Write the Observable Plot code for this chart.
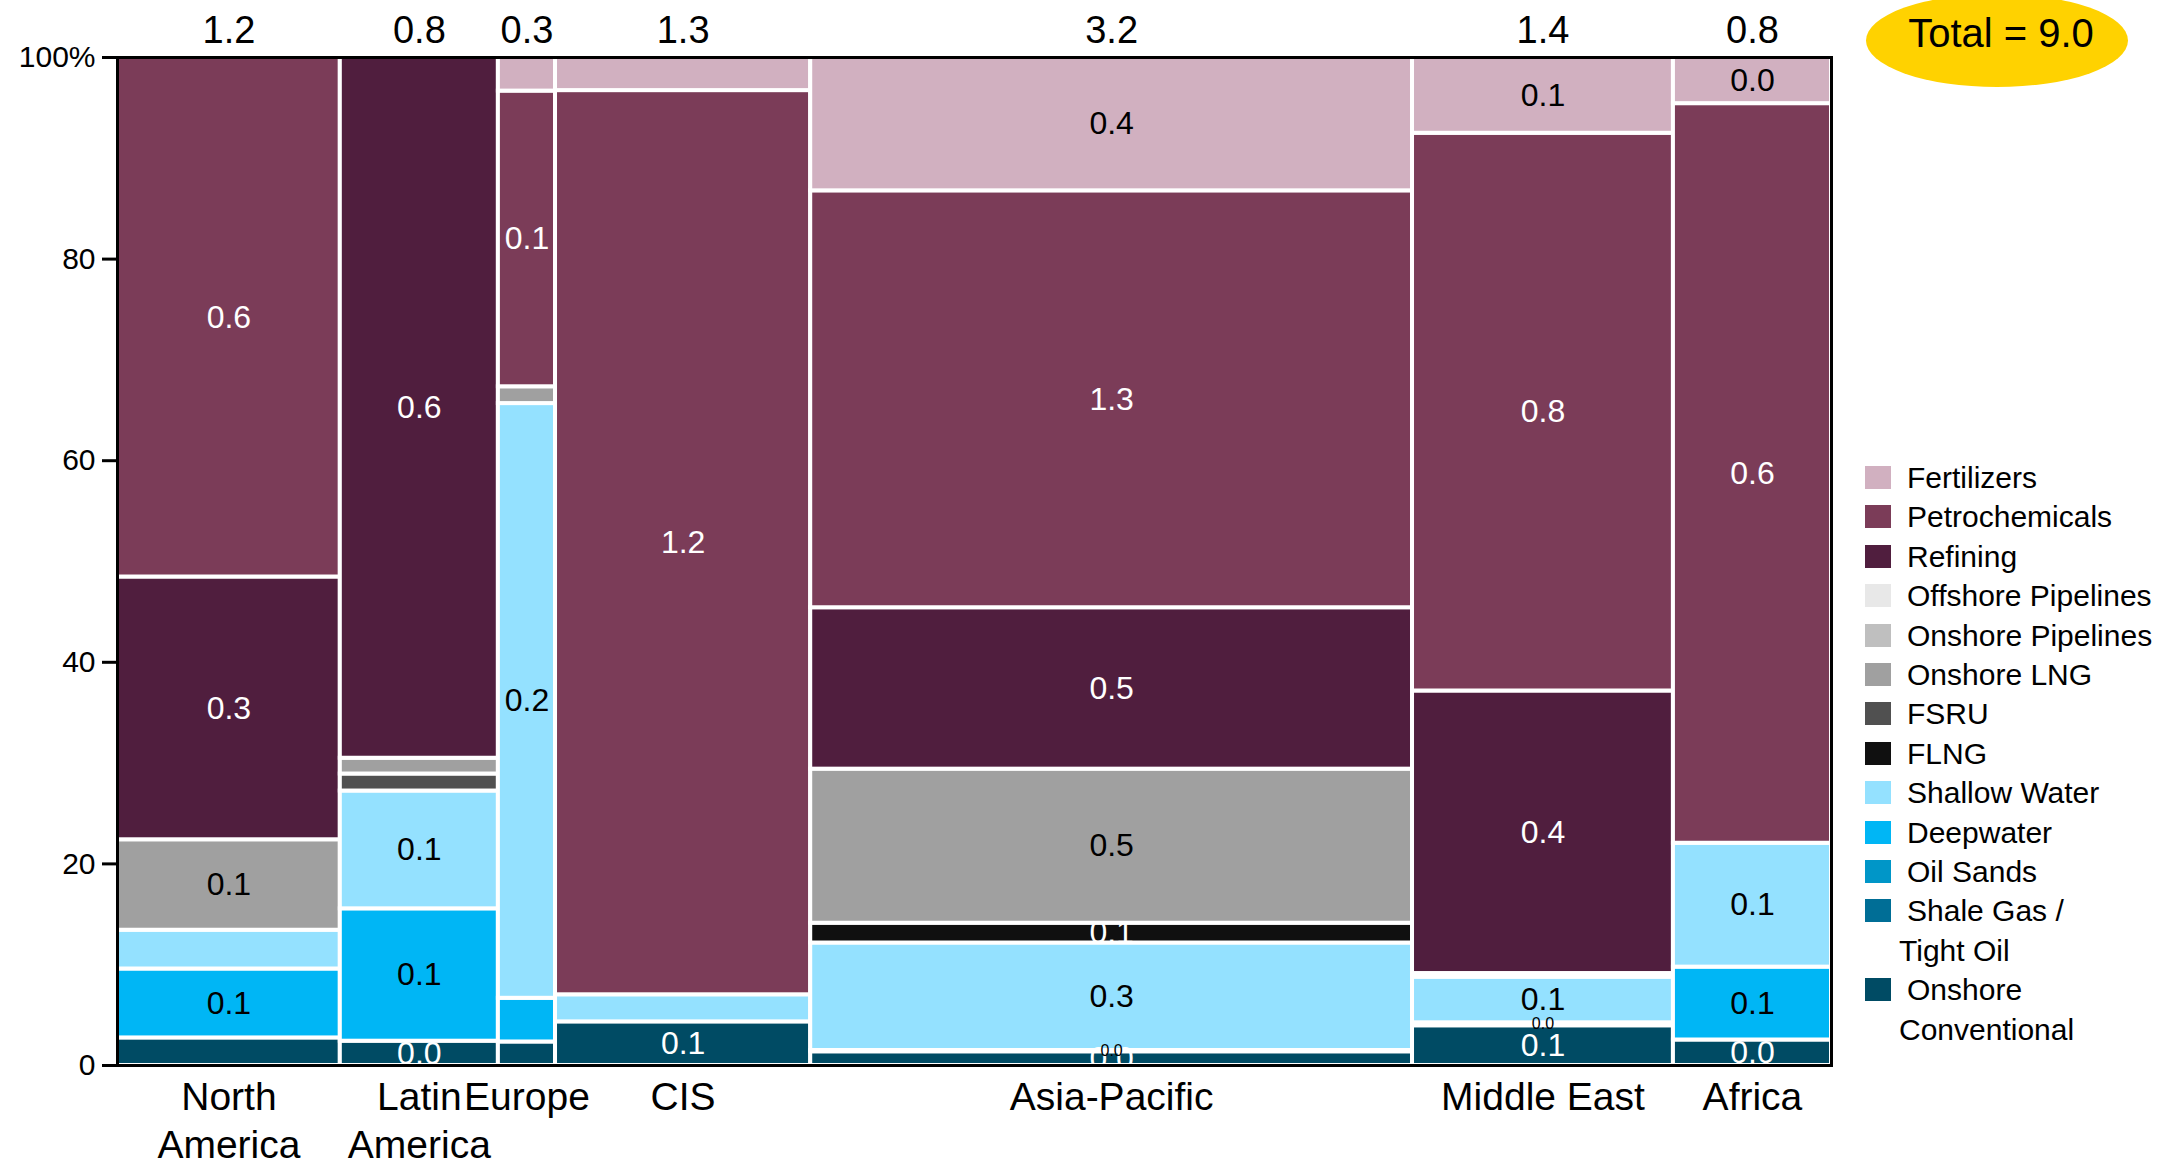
<!DOCTYPE html>
<html>
<head>
<meta charset="utf-8">
<script src="https://cdn.jsdelivr.net/npm/d3@7"></script>
<script src="https://cdn.jsdelivr.net/npm/@observablehq/plot@0.6"></script>
<style>
  html, body { margin: 0; padding: 0; background: #fff; }
  body { width: 2160px; height: 1165px; overflow: hidden; position: relative;
         font-family: "Liberation Sans", Arial, sans-serif; color: #000; }
  #chart { position: absolute; left: 0; top: 0; }
  #legend { position: absolute; left: 1865px; top: 458px; font-size: 30px; line-height: 39.4px; }
  .item { display: flex; align-items: flex-start; }
  .sw { width: 26px; height: 23px; margin-top: 8px; margin-right: 16px; flex: none; }
  .lbl { white-space: nowrap; }
  .lbl .l2 { display: block; margin-left: -8px; }
  #totalBubble { position: absolute; left: 1866px; top: -6px; width: 262px; height: 93px;
                 border-radius: 50%; background: #FFD200; }
  #totalText { position: absolute; left: 1870px; width: 262px; top: 11px; text-align: center;
               font-size: 40px; line-height: 44px; }
</style>
</head>
<body>
<div id="chart"></div>
<div id="totalBubble"></div>
<div id="totalText"></div>
<div id="legend"></div>
<script>
// ---- Data ----
const regions = ["North America", "Latin America", "Europe", "CIS", "Asia-Pacific", "Middle East", "Africa"];
const regionLabels = ["North\nAmerica", "Latin\nAmerica", "Europe", "CIS", "Asia-Pacific", "Middle East", "Africa"];

// legend order (top to bottom); stacks are drawn in the reverse order from the bottom
const categories = ["Fertilizers", "Petrochemicals", "Refining", "Offshore Pipelines", "Onshore Pipelines",
  "Onshore LNG", "FSRU", "FLNG", "Shallow Water", "Deepwater", "Oil Sands", "Shale Gas / Tight Oil",
  "Onshore Conventional"];
const colors = ["#D1B0C0", "#7B3C58", "#501E3E", "#E8E8E8", "#BFBFBF", "#A0A0A0", "#505050", "#101010",
  "#94E1FF", "#00B6F5", "#0096C8", "#006E96", "#004B64"];

// values per region, in the categories order above
const northAmerica = [0,     0.603, 0.305, 0, 0, 0.105, 0,     0,     0.045, 0.080, 0, 0, 0.032];
const latinAmerica = [0,     0,     0.577, 0, 0, 0.013, 0.014, 0,     0.097, 0.109, 0, 0, 0.020];
const europe       = [0.010, 0.088, 0,     0, 0, 0.005, 0,     0,     0.177, 0.013, 0, 0, 0.007];
const cis          = [0.044, 1.202, 0,     0, 0, 0,     0,     0,     0.036, 0,     0, 0, 0.058];
const asiaPacific  = [0.418, 1.307, 0.506, 0, 0, 0.483, 0,     0.062, 0.337, 0.004, 0, 0, 0.043];
const middleEast   = [0.103, 0.758, 0.384, 0, 0, 0.005, 0,     0,     0.062, 0.004, 0, 0, 0.054];
const africa       = [0.038, 0.609, 0,     0, 0, 0,     0,     0,     0.102, 0.060, 0, 0, 0.021];
const regionValues = [northAmerica, latinAmerica, europe, cis, asiaPacific, middleEast, africa];

const unlabeled = ["North America|Shallow Water", "North America|Onshore Conventional",
  "Latin America|FSRU", "Latin America|Onshore LNG",
  "Europe|Fertilizers", "Europe|Onshore LNG", "Europe|Deepwater", "Europe|Onshore Conventional",
  "CIS|Fertilizers", "CIS|Shallow Water", "Middle East|Onshore LNG"];
const smallLabels = ["Asia-Pacific|Deepwater", "Middle East|Deepwater"];
const whiteText = ["Petrochemicals", "Refining", "FSRU", "FLNG", "Shale Gas / Tight Oil", "Onshore Conventional"];
const yTicks = [0, 20, 40, 60, 80, 100];

// ---- Build table ----
const fmt = d3.format(".1f");
const totals = regionValues.map(v => d3.sum(v));
const grandTotal = d3.sum(totals);
const regionRows = [];
const segments = [];
let xCursor = 0;
regions.forEach((r, i) => {
  const total = totals[i];
  const x1 = xCursor, x2 = xCursor + total;
  xCursor = x2;
  regionRows.push({region: r, label: regionLabels[i], total, mid: (x1 + x2) / 2});
  let yCursor = 0;
  for (let c = categories.length - 1; c >= 0; c--) {
    const v = regionValues[i][c];
    if (!v) continue;
    const h = v / total * 100;
    const key = r + "|" + categories[c];
    segments.push({region: r, category: categories[c], value: v, x1, x2, y1: yCursor, y2: yCursor + h,
      xm: (x1 + x2) / 2, ym: yCursor + h / 2, key});
    yCursor += h;
  }
});
const bigLabels = segments.filter(d => !unlabeled.includes(d.key) && !smallLabels.includes(d.key));
const tinyLabels = segments.filter(d => smallLabels.includes(d.key));

const plot = Plot.plot({
  width: 2160,
  height: 1165,
  marginLeft: 117,
  marginRight: 329,
  marginTop: 57,
  marginBottom: 100,
  x: {domain: [0, grandTotal], axis: null},
  y: {domain: [0, 100], axis: null},
  color: {domain: categories, range: colors},
  style: {fontFamily: "Liberation Sans, Arial, sans-serif", color: "black", background: "white", overflow: "visible"},
  marks: [
    Plot.rect(segments, {x1: "x1", x2: "x2", y1: "y1", y2: "y2", fill: "category", stroke: "white", strokeWidth: 4}),
    Plot.text(bigLabels.filter(d => whiteText.includes(d.category)),
      {x: "xm", y: "ym", text: d => fmt(d.value), fill: "white", fontSize: 32}),
    Plot.text(bigLabels.filter(d => !whiteText.includes(d.category)),
      {x: "xm", y: "ym", text: d => fmt(d.value), fill: "black", fontSize: 32}),
    Plot.text(tinyLabels, {x: "xm", y: "ym", text: d => fmt(d.value), fill: "black", fontSize: 16}),
    Plot.frame({stroke: "black", strokeWidth: 3}),
    Plot.axisY({ticks: yTicks, tickFormat: d => d === 100 ? "100%" : String(d), tickSize: 15,
      tickPadding: 7, strokeWidth: 3, fontSize: 30, label: null, stroke: "black", fill: "black"}),
    Plot.text(regionRows, {x: "mid", y: 0, text: "label", lineAnchor: "top", dy: 11, fontSize: 39,
      lineHeight: 1.22, fill: "black"}),
    Plot.text(regionRows, {x: "mid", y: 100, text: d => fmt(d.total), lineAnchor: "bottom", dy: -15,
      fontSize: 38, fill: "black"})
  ]
});
document.getElementById("chart").appendChild(plot);

document.getElementById("totalText").textContent = "Total = " + fmt(grandTotal);

// legend
const legendBreaks = {"Shale Gas / Tight Oil": ["Shale Gas /", "Tight Oil"], "Onshore Conventional": ["Onshore", "Conventional"]};
const legend = document.getElementById("legend");
categories.forEach((c, i) => {
  const item = document.createElement("div");
  item.className = "item";
  const sw = document.createElement("div");
  sw.className = "sw";
  sw.style.background = colors[i];
  const lbl = document.createElement("div");
  lbl.className = "lbl";
  if (legendBreaks[c]) {
    const a = document.createElement("span"); a.textContent = legendBreaks[c][0];
    const b = document.createElement("span"); b.className = "l2"; b.textContent = legendBreaks[c][1];
    lbl.appendChild(a); lbl.appendChild(b);
  } else {
    lbl.textContent = c;
  }
  item.appendChild(sw);
  item.appendChild(lbl);
  legend.appendChild(item);
});
</script>
</body>
</html>
